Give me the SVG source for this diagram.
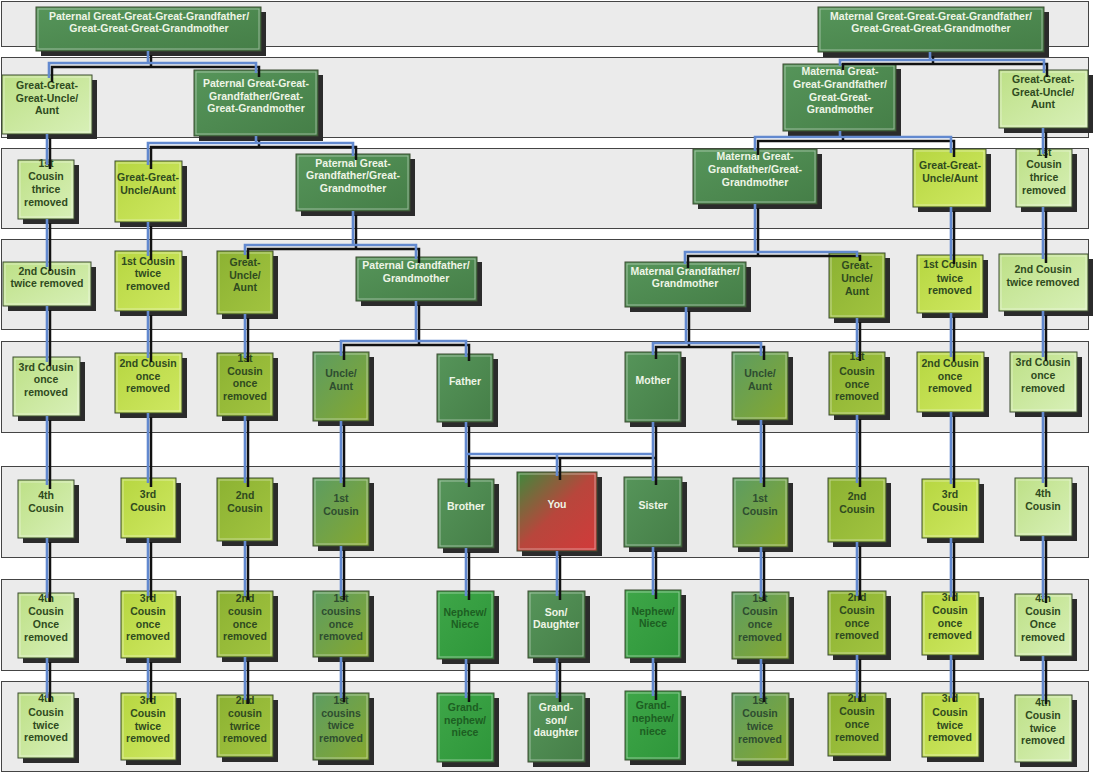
<svg xmlns="http://www.w3.org/2000/svg" xmlns:xlink="http://www.w3.org/1999/xlink" width="1094" height="773" viewBox="0 0 1094 773">
<defs>
<linearGradient id="gDark" x1="0" y1="0" x2="1" y2="1"><stop offset="0" stop-color="#56955a"/><stop offset="1" stop-color="#457e47"/></linearGradient>
<linearGradient id="gPale" x1="0" y1="0" x2="1" y2="1"><stop offset="0" stop-color="#bde086"/><stop offset="1" stop-color="#d8f0b8"/></linearGradient>
<linearGradient id="gYel" x1="0" y1="0" x2="1" y2="1"><stop offset="0" stop-color="#b6d640"/><stop offset="1" stop-color="#cfe862"/></linearGradient>
<linearGradient id="gOl" x1="0" y1="0" x2="1" y2="1"><stop offset="0" stop-color="#8cb232"/><stop offset="1" stop-color="#a2c440"/></linearGradient>
<linearGradient id="gL4" x1="0" y1="0" x2="1" y2="1"><stop offset="0" stop-color="#5c9c62"/><stop offset="1" stop-color="#86a82e"/></linearGradient>
<linearGradient id="gBr" x1="0" y1="0" x2="1" y2="1"><stop offset="0" stop-color="#3ea648"/><stop offset="1" stop-color="#2e963a"/></linearGradient>
<linearGradient id="gYou" x1="0" y1="0" x2="1" y2="1"><stop offset="0" stop-color="#3d8a3c"/><stop offset="0.5" stop-color="#b8463c"/><stop offset="1" stop-color="#d23a3a"/></linearGradient>
<style>
.band{fill:#ebebeb;stroke:#444;stroke-width:1}
.sh{fill:#2b2b2b}
.bx{stroke:#3c4c32;stroke-width:1}
.in{fill:none;stroke:#ffffff;stroke-opacity:0.45;stroke-width:1}
.dark{fill:url(#gDark)}
.pale{fill:url(#gPale)}
.yel{fill:url(#gYel)}
.ol{fill:url(#gOl)}
.l4{fill:url(#gL4)}
.br{fill:url(#gBr)}
.you{fill:url(#gYou)}
text{font-family:"Liberation Sans",Arial,sans-serif;font-weight:bold;font-size:10.5px;text-anchor:middle}
.tl{fill:#eef5e6}
.td{fill:#2f4a20}
.tg{fill:#2e4d30}
.tn{fill:#1d5e22}
.cl{fill:none;stroke-linejoin:miter;stroke-linecap:butt}
.blk{stroke:#111;stroke-width:2.5}
.blu{stroke:#6289cf;stroke-width:2.6}
</style>
<g id="cpaths">
<path d="M148 51 V63 M49 78 V63 H256 V73"/>
<path d="M256 136 V143 M148 165 V143 H353 V156"/>
<path d="M353 211 V245 M245 255 V245 H416 V259"/>
<path d="M416 301 V341 M341 356 V341 H466 V357"/>
<path d="M466 422 V483 M653 422 V481 M466 454 H653 M557 454 V476"/>
<path d="M930 52 V60 M840 66 V60 H1044 V73"/>
<path d="M840 131 V137 M755 151 V137 H951 V153"/>
<path d="M755 204 V252 M685 264 V252 H857 V257"/>
<path d="M686 307 V343 M653 355 V343 H761 V356"/>
<path d="M47 134 V165 M47 219 V267 M47 306 V362 M47 416 V485 M47 538 V598 M47 658 V698"/>
<path d="M148 222 V256 M148 311 V358 M148 413 V483 M148 538 V596 M148 658 V698"/>
<path d="M245 314 V358 M245 416 V483 M245 541 V596 M245 657 V700"/>
<path d="M341 421 V483 M341 546 V596 M341 657 V698"/>
<path d="M466 548 V596 M466 659 V698"/>
<path d="M557 551 V596 M557 658 V698"/>
<path d="M653 547 V595 M653 658 V696"/>
<path d="M761 420 V483 M761 547 V597 M761 659 V698"/>
<path d="M857 318 V357 M857 415 V483 M857 542 V596 M857 655 V698"/>
<path d="M951 207 V260 M951 313 V357 M951 412 V484 M951 538 V597 M951 655 V698"/>
<path d="M1043 128 V154 M1043 207 V259 M1043 311 V357 M1043 412 V483 M1043 536 V599 M1043 656 V700"/>
</g>
</defs>

<g id="bands">
<rect class="band" x="1.5" y="1.5" width="1087" height="45"/>
<rect class="band" x="1.5" y="57.5" width="1087" height="80"/>
<rect class="band" x="1.5" y="148.5" width="1087" height="80"/>
<rect class="band" x="1.5" y="239.5" width="1087" height="90"/>
<rect class="band" x="1.5" y="341.5" width="1087" height="91"/>
<rect class="band" x="1.5" y="466.5" width="1087" height="91"/>
<rect class="band" x="1.5" y="579.5" width="1087" height="91"/>
<rect class="band" x="1.5" y="681.5" width="1087" height="90"/>
</g>

<g id="nodes">
<!-- Row 1 -->
<g id="n-pggg"><rect class="sh" x="41" y="12" width="225" height="44"/><rect class="bx dark" x="36" y="7" width="225" height="44"/><rect class="in" x="38" y="9" width="221" height="40"/><text class="tl"><tspan x="149" y="20">Paternal Great-Great-Great-Grandfather/</tspan><tspan x="149" y="32">Great-Great-Great-Grandmother</tspan></text></g>
<g id="n-mggg"><rect class="sh" x="823" y="12" width="226" height="45"/><rect class="bx dark" x="818" y="7" width="226" height="45"/><rect class="in" x="820" y="9" width="222" height="41"/><text class="tl"><tspan x="931" y="20">Maternal Great-Great-Great-Grandfather/</tspan><tspan x="931" y="32">Great-Great-Great-Grandmother</tspan></text></g>
<!-- Row 2 -->
<g id="n-gggua-l"><rect class="sh" x="7" y="80" width="90" height="59"/><rect class="bx pale" x="2" y="75" width="90" height="59"/><rect class="in" x="4" y="77" width="86" height="55"/><text class="td"><tspan x="47" y="89">Great-Great-</tspan><tspan x="47" y="102">Great-Uncle/</tspan><tspan x="47" y="114">Aunt</tspan></text></g>
<g id="n-pgg"><rect class="sh" x="199" y="75" width="124" height="66"/><rect class="bx dark" x="194" y="70" width="124" height="66"/><rect class="in" x="196" y="72" width="120" height="62"/><text class="tl"><tspan x="256" y="87">Paternal Great-Great-</tspan><tspan x="256" y="100">Grandfather/Great-</tspan><tspan x="256" y="112">Great-Grandmother</tspan></text></g>
<g id="n-mgg"><rect class="sh" x="788" y="69" width="113" height="67"/><rect class="bx dark" x="783" y="64" width="113" height="67"/><rect class="in" x="785" y="66" width="109" height="63"/><text class="tl"><tspan x="840" y="75">Maternal Great-</tspan><tspan x="840" y="88">Great-Grandfather/</tspan><tspan x="840" y="101">Great-Great-</tspan><tspan x="840" y="113">Grandmother</tspan></text></g>
<g id="n-gggua-r"><rect class="sh" x="1004" y="75" width="89" height="58"/><rect class="bx pale" x="999" y="70" width="89" height="58"/><rect class="in" x="1001" y="72" width="85" height="54"/><text class="td"><tspan x="1043" y="83">Great-Great-</tspan><tspan x="1043" y="96">Great-Uncle/</tspan><tspan x="1043" y="108">Aunt</tspan></text></g>
<!-- Row 3 -->
<g id="n-c1x3-l"><rect class="sh" x="23" y="165" width="56" height="59"/><rect class="bx pale" x="18" y="160" width="56" height="59"/><rect class="in" x="20" y="162" width="52" height="55"/><text class="td"><tspan x="46" y="167">1st</tspan><tspan x="46" y="180">Cousin</tspan><tspan x="46" y="193">thrice</tspan><tspan x="46" y="206">removed</tspan></text></g>
<g id="n-ggua-l"><rect class="sh" x="120" y="166" width="67" height="61"/><rect class="bx yel" x="115" y="161" width="67" height="61"/><rect class="in" x="117" y="163" width="63" height="57"/><text class="td"><tspan x="148" y="181">Great-Great-</tspan><tspan x="148" y="194">Uncle/Aunt</tspan></text></g>
<g id="n-pgp"><rect class="sh" x="301" y="159" width="114" height="57"/><rect class="bx dark" x="296" y="154" width="114" height="57"/><rect class="in" x="298" y="156" width="110" height="53"/><text class="tl"><tspan x="353" y="167">Paternal Great-</tspan><tspan x="353" y="179">Grandfather/Great-</tspan><tspan x="353" y="192">Grandmother</tspan></text></g>
<g id="n-mgp"><rect class="sh" x="698" y="154" width="124" height="55"/><rect class="bx dark" x="693" y="149" width="124" height="55"/><rect class="in" x="695" y="151" width="120" height="51"/><text class="tl"><tspan x="755" y="160">Maternal Great-</tspan><tspan x="755" y="173">Grandfather/Great-</tspan><tspan x="755" y="186">Grandmother</tspan></text></g>
<g id="n-ggua-r"><rect class="sh" x="918" y="154" width="73" height="58"/><rect class="bx yel" x="913" y="149" width="73" height="58"/><rect class="in" x="915" y="151" width="69" height="54"/><text class="td"><tspan x="950" y="169">Great-Great-</tspan><tspan x="950" y="182">Uncle/Aunt</tspan></text></g>
<g id="n-c1x3-r"><rect class="sh" x="1021" y="154" width="56" height="58"/><rect class="bx pale" x="1016" y="149" width="56" height="58"/><rect class="in" x="1018" y="151" width="52" height="54"/><text class="td"><tspan x="1044" y="156">1st</tspan><tspan x="1044" y="168">Cousin</tspan><tspan x="1044" y="181">thrice</tspan><tspan x="1044" y="194">removed</tspan></text></g>
<!-- Row 4 -->
<g id="n-c2x2-l"><rect class="sh" x="8" y="267" width="88" height="44"/><rect class="bx pale" x="3" y="262" width="88" height="44"/><rect class="in" x="5" y="264" width="84" height="40"/><text class="td"><tspan x="47" y="275">2nd Cousin</tspan><tspan x="47" y="287">twice removed</tspan></text></g>
<g id="n-c1x2-l"><rect class="sh" x="120" y="256" width="67" height="60"/><rect class="bx yel" x="115" y="251" width="67" height="60"/><rect class="in" x="117" y="253" width="63" height="56"/><text class="td"><tspan x="148" y="265">1st Cousin</tspan><tspan x="148" y="277">twice</tspan><tspan x="148" y="290">removed</tspan></text></g>
<g id="n-gua-l"><rect class="sh" x="222" y="256" width="56" height="63"/><rect class="bx ol" x="217" y="251" width="56" height="63"/><rect class="in" x="219" y="253" width="52" height="59"/><text class="td"><tspan x="245" y="266">Great-</tspan><tspan x="245" y="279">Uncle/</tspan><tspan x="245" y="291">Aunt</tspan></text></g>
<g id="n-pg"><rect class="sh" x="361" y="262" width="121" height="44"/><rect class="bx dark" x="356" y="257" width="121" height="44"/><rect class="in" x="358" y="259" width="117" height="40"/><text class="tl"><tspan x="416" y="269">Paternal Grandfather/</tspan><tspan x="416" y="282">Grandmother</tspan></text></g>
<g id="n-mg"><rect class="sh" x="630" y="267" width="121" height="45"/><rect class="bx dark" x="625" y="262" width="121" height="45"/><rect class="in" x="627" y="264" width="117" height="41"/><text class="tl"><tspan x="685" y="275">Maternal Grandfather/</tspan><tspan x="685" y="287">Grandmother</tspan></text></g>
<g id="n-gua-r"><rect class="sh" x="834" y="258" width="56" height="65"/><rect class="bx ol" x="829" y="253" width="56" height="65"/><rect class="in" x="831" y="255" width="52" height="61"/><text class="td"><tspan x="857" y="269">Great-</tspan><tspan x="857" y="282">Uncle/</tspan><tspan x="857" y="295">Aunt</tspan></text></g>
<g id="n-c1x2-r"><rect class="sh" x="922" y="260" width="66" height="58"/><rect class="bx yel" x="917" y="255" width="66" height="58"/><rect class="in" x="919" y="257" width="62" height="54"/><text class="td"><tspan x="950" y="268">1st Cousin</tspan><tspan x="950" y="282">twice</tspan><tspan x="950" y="294">removed</tspan></text></g>
<g id="n-c2x2-r"><rect class="sh" x="1004" y="259" width="89" height="57"/><rect class="bx pale" x="999" y="254" width="89" height="57"/><rect class="in" x="1001" y="256" width="85" height="53"/><text class="td"><tspan x="1043" y="273">2nd Cousin</tspan><tspan x="1043" y="286">twice removed</tspan></text></g>
<!-- Row 5 -->
<g id="n-c3x1-l"><rect class="sh" x="18" y="362" width="67" height="59"/><rect class="bx pale" x="13" y="357" width="67" height="59"/><rect class="in" x="15" y="359" width="63" height="55"/><text class="td"><tspan x="46" y="371">3rd Cousin</tspan><tspan x="46" y="383">once</tspan><tspan x="46" y="396">removed</tspan></text></g>
<g id="n-c2x1-l"><rect class="sh" x="120" y="358" width="67" height="60"/><rect class="bx yel" x="115" y="353" width="67" height="60"/><rect class="in" x="117" y="355" width="63" height="56"/><text class="td"><tspan x="148" y="367">2nd Cousin</tspan><tspan x="148" y="380">once</tspan><tspan x="148" y="392">removed</tspan></text></g>
<g id="n-c1x1-l"><rect class="sh" x="222" y="358" width="56" height="63"/><rect class="bx ol" x="217" y="353" width="56" height="63"/><rect class="in" x="219" y="355" width="52" height="59"/><text class="td"><tspan x="245" y="362">1st</tspan><tspan x="245" y="375">Cousin</tspan><tspan x="245" y="387">once</tspan><tspan x="245" y="400">removed</tspan></text></g>
<g id="n-ua-l"><rect class="sh" x="318" y="357" width="56" height="69"/><rect class="bx l4" x="313" y="352" width="56" height="69"/><rect class="in" x="315" y="354" width="52" height="65"/><text class="tg"><tspan x="341" y="377">Uncle/</tspan><tspan x="341" y="390">Aunt</tspan></text></g>
<g id="n-father"><rect class="sh" x="442" y="359" width="56" height="68"/><rect class="bx dark" x="437" y="354" width="56" height="68"/><rect class="in" x="439" y="356" width="52" height="64"/><text class="tl"><tspan x="465" y="385">Father</tspan></text></g>
<g id="n-mother"><rect class="sh" x="630" y="357" width="56" height="70"/><rect class="bx dark" x="625" y="352" width="56" height="70"/><rect class="in" x="627" y="354" width="52" height="66"/><text class="tl"><tspan x="653" y="384">Mother</tspan></text></g>
<g id="n-ua-r"><rect class="sh" x="737" y="357" width="56" height="68"/><rect class="bx l4" x="732" y="352" width="56" height="68"/><rect class="in" x="734" y="354" width="52" height="64"/><text class="tg"><tspan x="760" y="377">Uncle/</tspan><tspan x="760" y="390">Aunt</tspan></text></g>
<g id="n-c1x1-r"><rect class="sh" x="834" y="357" width="56" height="63"/><rect class="bx ol" x="829" y="352" width="56" height="63"/><rect class="in" x="831" y="354" width="52" height="59"/><text class="td"><tspan x="857" y="360">1st</tspan><tspan x="857" y="375">Cousin</tspan><tspan x="857" y="388">once</tspan><tspan x="857" y="400">removed</tspan></text></g>
<g id="n-c2x1-r"><rect class="sh" x="922" y="357" width="67" height="60"/><rect class="bx yel" x="917" y="352" width="67" height="60"/><rect class="in" x="919" y="354" width="63" height="56"/><text class="td"><tspan x="950" y="367">2nd Cousin</tspan><tspan x="950" y="380">once</tspan><tspan x="950" y="392">removed</tspan></text></g>
<g id="n-c3x1-r"><rect class="sh" x="1015" y="357" width="67" height="60"/><rect class="bx pale" x="1010" y="352" width="67" height="60"/><rect class="in" x="1012" y="354" width="63" height="56"/><text class="td"><tspan x="1043" y="366">3rd Cousin</tspan><tspan x="1043" y="379">once</tspan><tspan x="1043" y="392">removed</tspan></text></g>
<!-- Row 6 -->
<g id="n-c4-l"><rect class="sh" x="23" y="485" width="56" height="58"/><rect class="bx pale" x="18" y="480" width="56" height="58"/><rect class="in" x="20" y="482" width="52" height="54"/><text class="td"><tspan x="46" y="499">4th</tspan><tspan x="46" y="512">Cousin</tspan></text></g>
<g id="n-c3-l"><rect class="sh" x="126" y="483" width="55" height="60"/><rect class="bx yel" x="121" y="478" width="55" height="60"/><rect class="in" x="123" y="480" width="51" height="56"/><text class="td"><tspan x="148" y="498">3rd</tspan><tspan x="148" y="511">Cousin</tspan></text></g>
<g id="n-c2-l"><rect class="sh" x="222" y="483" width="56" height="63"/><rect class="bx ol" x="217" y="478" width="56" height="63"/><rect class="in" x="219" y="480" width="52" height="59"/><text class="td"><tspan x="245" y="499">2nd</tspan><tspan x="245" y="512">Cousin</tspan></text></g>
<g id="n-c1-l"><rect class="sh" x="318" y="483" width="56" height="68"/><rect class="bx l4" x="313" y="478" width="56" height="68"/><rect class="in" x="315" y="480" width="52" height="64"/><text class="tg"><tspan x="341" y="502">1st</tspan><tspan x="341" y="515">Cousin</tspan></text></g>
<g id="n-brother"><rect class="sh" x="443" y="484" width="56" height="69"/><rect class="bx dark" x="438" y="479" width="56" height="69"/><rect class="in" x="440" y="481" width="52" height="65"/><text class="tl"><tspan x="466" y="510">Brother</tspan></text></g>
<g id="n-you"><rect class="sh" x="522" y="477" width="80" height="79"/><rect class="bx you" x="517" y="472" width="80" height="79"/><rect class="in" x="519" y="474" width="76" height="75"/><text class="tl"><tspan x="557" y="508">You</tspan></text></g>
<g id="n-sister"><rect class="sh" x="629" y="482" width="58" height="70"/><rect class="bx dark" x="624" y="477" width="58" height="70"/><rect class="in" x="626" y="479" width="54" height="66"/><text class="tl"><tspan x="653" y="509">Sister</tspan></text></g>
<g id="n-c1-r"><rect class="sh" x="738" y="483" width="55" height="69"/><rect class="bx l4" x="733" y="478" width="55" height="69"/><rect class="in" x="735" y="480" width="51" height="65"/><text class="tg"><tspan x="760" y="502">1st</tspan><tspan x="760" y="515">Cousin</tspan></text></g>
<g id="n-c2-r"><rect class="sh" x="833" y="483" width="58" height="64"/><rect class="bx ol" x="828" y="478" width="58" height="64"/><rect class="in" x="830" y="480" width="54" height="60"/><text class="td"><tspan x="857" y="500">2nd</tspan><tspan x="857" y="513">Cousin</tspan></text></g>
<g id="n-c3-r"><rect class="sh" x="927" y="484" width="57" height="59"/><rect class="bx yel" x="922" y="479" width="57" height="59"/><rect class="in" x="924" y="481" width="53" height="55"/><text class="td"><tspan x="950" y="498">3rd</tspan><tspan x="950" y="511">Cousin</tspan></text></g>
<g id="n-c4-r"><rect class="sh" x="1020" y="483" width="57" height="58"/><rect class="bx pale" x="1015" y="478" width="57" height="58"/><rect class="in" x="1017" y="480" width="53" height="54"/><text class="td"><tspan x="1043" y="497">4th</tspan><tspan x="1043" y="510">Cousin</tspan></text></g>
<!-- Row 7 -->
<g id="n-c4x1-l"><rect class="sh" x="23" y="598" width="56" height="65"/><rect class="bx pale" x="18" y="593" width="56" height="65"/><rect class="in" x="20" y="595" width="52" height="61"/><text class="td"><tspan x="46" y="602">4th</tspan><tspan x="46" y="615">Cousin</tspan><tspan x="46" y="628">Once</tspan><tspan x="46" y="641">removed</tspan></text></g>
<g id="n-c3x1b-l"><rect class="sh" x="126" y="596" width="55" height="67"/><rect class="bx yel" x="121" y="591" width="55" height="67"/><rect class="in" x="123" y="593" width="51" height="63"/><text class="td"><tspan x="148" y="602">3rd</tspan><tspan x="148" y="615">Cousin</tspan><tspan x="148" y="628">once</tspan><tspan x="148" y="640">removed</tspan></text></g>
<g id="n-c2x1b-l"><rect class="sh" x="222" y="596" width="56" height="66"/><rect class="bx ol" x="217" y="591" width="56" height="66"/><rect class="in" x="219" y="593" width="52" height="62"/><text class="td"><tspan x="245" y="602">2nd</tspan><tspan x="245" y="615">cousin</tspan><tspan x="245" y="628">once</tspan><tspan x="245" y="640">removed</tspan></text></g>
<g id="n-c1x1b-l"><rect class="sh" x="318" y="596" width="56" height="66"/><rect class="bx l4" x="313" y="591" width="56" height="66"/><rect class="in" x="315" y="593" width="52" height="62"/><text class="tg"><tspan x="341" y="602">1st</tspan><tspan x="341" y="615">cousins</tspan><tspan x="341" y="628">once</tspan><tspan x="341" y="640">removed</tspan></text></g>
<g id="n-nn-l"><rect class="sh" x="442" y="596" width="57" height="68"/><rect class="bx br" x="437" y="591" width="57" height="68"/><rect class="in" x="439" y="593" width="53" height="64"/><text class="tn"><tspan x="465" y="616">Nephew/</tspan><tspan x="465" y="628">Niece</tspan></text></g>
<g id="n-sd"><rect class="sh" x="533" y="596" width="57" height="67"/><rect class="bx dark" x="528" y="591" width="57" height="67"/><rect class="in" x="530" y="593" width="53" height="63"/><text class="tl"><tspan x="556" y="616">Son/</tspan><tspan x="556" y="628">Daughter</tspan></text></g>
<g id="n-nn-r"><rect class="sh" x="630" y="595" width="56" height="68"/><rect class="bx br" x="625" y="590" width="56" height="68"/><rect class="in" x="627" y="592" width="52" height="64"/><text class="tn"><tspan x="653" y="615">Nephew/</tspan><tspan x="653" y="627">Niece</tspan></text></g>
<g id="n-c1x1b-r"><rect class="sh" x="737" y="597" width="57" height="67"/><rect class="bx l4" x="732" y="592" width="57" height="67"/><rect class="in" x="734" y="594" width="53" height="63"/><text class="tg"><tspan x="760" y="602">1st</tspan><tspan x="760" y="615">Cousin</tspan><tspan x="760" y="628">once</tspan><tspan x="760" y="641">removed</tspan></text></g>
<g id="n-c2x1b-r"><rect class="sh" x="833" y="596" width="58" height="64"/><rect class="bx ol" x="828" y="591" width="58" height="64"/><rect class="in" x="830" y="593" width="54" height="60"/><text class="td"><tspan x="857" y="601">2nd</tspan><tspan x="857" y="614">Cousin</tspan><tspan x="857" y="627">once</tspan><tspan x="857" y="639">removed</tspan></text></g>
<g id="n-c3x1b-r"><rect class="sh" x="927" y="597" width="57" height="63"/><rect class="bx yel" x="922" y="592" width="57" height="63"/><rect class="in" x="924" y="594" width="53" height="59"/><text class="td"><tspan x="950" y="601">3rd</tspan><tspan x="950" y="614">Cousin</tspan><tspan x="950" y="627">once</tspan><tspan x="950" y="639">removed</tspan></text></g>
<g id="n-c4x1-r"><rect class="sh" x="1020" y="599" width="57" height="62"/><rect class="bx pale" x="1015" y="594" width="57" height="62"/><rect class="in" x="1017" y="596" width="53" height="58"/><text class="td"><tspan x="1043" y="602">4th</tspan><tspan x="1043" y="615">Cousin</tspan><tspan x="1043" y="628">Once</tspan><tspan x="1043" y="641">removed</tspan></text></g>
<!-- Row 8 -->
<g id="n-c4x2-l"><rect class="sh" x="23" y="698" width="56" height="65"/><rect class="bx pale" x="18" y="693" width="56" height="65"/><rect class="in" x="20" y="695" width="52" height="61"/><text class="td"><tspan x="46" y="702">4th</tspan><tspan x="46" y="716">Cousin</tspan><tspan x="46" y="729">twice</tspan><tspan x="46" y="741">removed</tspan></text></g>
<g id="n-c3x2-l"><rect class="sh" x="126" y="698" width="55" height="67"/><rect class="bx yel" x="121" y="693" width="55" height="67"/><rect class="in" x="123" y="695" width="51" height="63"/><text class="td"><tspan x="148" y="704">3rd</tspan><tspan x="148" y="717">Cousin</tspan><tspan x="148" y="730">twice</tspan><tspan x="148" y="742">removed</tspan></text></g>
<g id="n-c2x2b-l"><rect class="sh" x="222" y="700" width="56" height="62"/><rect class="bx ol" x="217" y="695" width="56" height="62"/><rect class="in" x="219" y="697" width="52" height="58"/><text class="td"><tspan x="245" y="704">2nd</tspan><tspan x="245" y="717">cousin</tspan><tspan x="245" y="730">twrice</tspan><tspan x="245" y="742">removed</tspan></text></g>
<g id="n-c1x2b-l"><rect class="sh" x="318" y="698" width="56" height="67"/><rect class="bx l4" x="313" y="693" width="56" height="67"/><rect class="in" x="315" y="695" width="52" height="63"/><text class="tg"><tspan x="341" y="704">1st</tspan><tspan x="341" y="717">cousins</tspan><tspan x="341" y="729">twice</tspan><tspan x="341" y="742">removed</tspan></text></g>
<g id="n-gn-l"><rect class="sh" x="442" y="698" width="57" height="69"/><rect class="bx br" x="437" y="693" width="57" height="69"/><rect class="in" x="439" y="695" width="53" height="65"/><text class="tn"><tspan x="465" y="711">Grand-</tspan><tspan x="465" y="724">nephew/</tspan><tspan x="465" y="736">niece</tspan></text></g>
<g id="n-gs"><rect class="sh" x="533" y="698" width="57" height="69"/><rect class="bx dark" x="528" y="693" width="57" height="69"/><rect class="in" x="530" y="695" width="53" height="65"/><text class="tl"><tspan x="556" y="711">Grand-</tspan><tspan x="556" y="724">son/</tspan><tspan x="556" y="736">daughter</tspan></text></g>
<g id="n-gn-r"><rect class="sh" x="630" y="696" width="56" height="69"/><rect class="bx br" x="625" y="691" width="56" height="69"/><rect class="in" x="627" y="693" width="52" height="65"/><text class="tn"><tspan x="653" y="709">Grand-</tspan><tspan x="653" y="722">nephew/</tspan><tspan x="653" y="735">niece</tspan></text></g>
<g id="n-c1x2b-r"><rect class="sh" x="737" y="698" width="57" height="68"/><rect class="bx l4" x="732" y="693" width="57" height="68"/><rect class="in" x="734" y="695" width="53" height="64"/><text class="tg"><tspan x="760" y="704">1st</tspan><tspan x="760" y="717">Cousin</tspan><tspan x="760" y="730">twice</tspan><tspan x="760" y="743">removed</tspan></text></g>
<g id="n-c2x1c-r"><rect class="sh" x="833" y="698" width="58" height="63"/><rect class="bx ol" x="828" y="693" width="58" height="63"/><rect class="in" x="830" y="695" width="54" height="59"/><text class="td"><tspan x="857" y="702">2nd</tspan><tspan x="857" y="715">Cousin</tspan><tspan x="857" y="728">once</tspan><tspan x="857" y="741">removed</tspan></text></g>
<g id="n-c3x2-r"><rect class="sh" x="927" y="698" width="57" height="64"/><rect class="bx yel" x="922" y="693" width="57" height="64"/><rect class="in" x="924" y="695" width="53" height="60"/><text class="td"><tspan x="950" y="702">3rd</tspan><tspan x="950" y="716">Cousin</tspan><tspan x="950" y="729">twice</tspan><tspan x="950" y="741">removed</tspan></text></g>
<g id="n-c4x2-r"><rect class="sh" x="1020" y="700" width="57" height="67"/><rect class="bx pale" x="1015" y="695" width="57" height="67"/><rect class="in" x="1017" y="697" width="53" height="63"/><text class="td"><tspan x="1043" y="706">4th</tspan><tspan x="1043" y="719">Cousin</tspan><tspan x="1043" y="732">twice</tspan><tspan x="1043" y="744">removed</tspan></text></g>
</g>

<g id="connectors">
<use xlink:href="#cpaths" href="#cpaths" class="cl blk" transform="translate(3,4)"/>
<use xlink:href="#cpaths" href="#cpaths" class="cl blu"/>
</g>
</svg>
